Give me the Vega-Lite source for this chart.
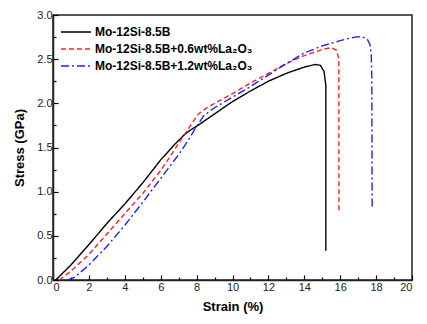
{
  "$schema": "https://vega.github.io/schema/vega-lite/v6.json",
  "width": 359,
  "height": 265,
  "autosize": "none",
  "padding": {"left": 53, "top": 15, "right": 15, "bottom": 44},
  "background": "white",
  "config": {
    "font": "Liberation Sans",
    "view": {"stroke": "#222", "strokeWidth": 1.5},
    "axis": {
      "domainColor": "#222",
      "domainWidth": 1.5,
      "ticks": true,
      "tickColor": "#000000",
      "tickOpacity": 1,
      "tickWidth": 1.2,
      "grid": false,
      "labelFont": "Liberation Sans",
      "labelFontSize": 11,
      "labelColor": "#222",
      "titleFont": "Liberation Sans",
      "titleFontSize": 13,
      "titleFontWeight": "bold",
      "titleColor": "#000"
    }
  },
  "data": {
    "values": [
      {"s": "A", "o": 1, "x": 0.15, "y": 0},
      {"s": "A", "o": 2, "x": 0.5, "y": 0.07},
      {"s": "A", "o": 3, "x": 1, "y": 0.17},
      {"s": "A", "o": 4, "x": 2, "y": 0.4},
      {"s": "A", "o": 5, "x": 3, "y": 0.64},
      {"s": "A", "o": 6, "x": 4, "y": 0.86},
      {"s": "A", "o": 7, "x": 5, "y": 1.1},
      {"s": "A", "o": 8, "x": 6, "y": 1.36},
      {"s": "A", "o": 9, "x": 6.8, "y": 1.54},
      {"s": "A", "o": 10, "x": 7.3, "y": 1.64},
      {"s": "A", "o": 11, "x": 7.6, "y": 1.69},
      {"s": "A", "o": 12, "x": 8, "y": 1.74},
      {"s": "A", "o": 13, "x": 9, "y": 1.88},
      {"s": "A", "o": 14, "x": 10, "y": 2.02},
      {"s": "A", "o": 15, "x": 11, "y": 2.14},
      {"s": "A", "o": 16, "x": 12, "y": 2.25},
      {"s": "A", "o": 17, "x": 13, "y": 2.34},
      {"s": "A", "o": 18, "x": 14, "y": 2.41},
      {"s": "A", "o": 19, "x": 14.6, "y": 2.44},
      {"s": "A", "o": 20, "x": 14.9, "y": 2.43},
      {"s": "A", "o": 21, "x": 15.1, "y": 2.36},
      {"s": "A", "o": 22, "x": 15.2, "y": 2.2},
      {"s": "A", "o": 23, "x": 15.2, "y": 0.33},
      {"s": "B", "o": 1, "x": 0.35, "y": 0},
      {"s": "B", "o": 2, "x": 1, "y": 0.1},
      {"s": "B", "o": 3, "x": 2, "y": 0.29},
      {"s": "B", "o": 4, "x": 3, "y": 0.52},
      {"s": "B", "o": 5, "x": 4, "y": 0.75},
      {"s": "B", "o": 6, "x": 5, "y": 0.98},
      {"s": "B", "o": 7, "x": 6, "y": 1.24},
      {"s": "B", "o": 8, "x": 6.5, "y": 1.39},
      {"s": "B", "o": 9, "x": 7, "y": 1.55},
      {"s": "B", "o": 10, "x": 7.6, "y": 1.73},
      {"s": "B", "o": 11, "x": 8.1, "y": 1.88},
      {"s": "B", "o": 12, "x": 8.5, "y": 1.94},
      {"s": "B", "o": 13, "x": 9, "y": 2.0},
      {"s": "B", "o": 14, "x": 10, "y": 2.11},
      {"s": "B", "o": 15, "x": 11, "y": 2.23},
      {"s": "B", "o": 16, "x": 12, "y": 2.34},
      {"s": "B", "o": 17, "x": 13, "y": 2.45},
      {"s": "B", "o": 18, "x": 14, "y": 2.54},
      {"s": "B", "o": 19, "x": 15, "y": 2.61},
      {"s": "B", "o": 20, "x": 15.5, "y": 2.63},
      {"s": "B", "o": 21, "x": 15.8, "y": 2.6},
      {"s": "B", "o": 22, "x": 15.92, "y": 2.5},
      {"s": "B", "o": 23, "x": 15.93, "y": 0.79},
      {"s": "C", "o": 1, "x": 0.8, "y": 0},
      {"s": "C", "o": 2, "x": 1.2, "y": 0.03},
      {"s": "C", "o": 3, "x": 2, "y": 0.17},
      {"s": "C", "o": 4, "x": 3, "y": 0.38},
      {"s": "C", "o": 5, "x": 4, "y": 0.62},
      {"s": "C", "o": 6, "x": 5, "y": 0.88},
      {"s": "C", "o": 7, "x": 6, "y": 1.15},
      {"s": "C", "o": 8, "x": 7, "y": 1.42},
      {"s": "C", "o": 9, "x": 7.5, "y": 1.57},
      {"s": "C", "o": 10, "x": 8, "y": 1.74},
      {"s": "C", "o": 11, "x": 8.4, "y": 1.86},
      {"s": "C", "o": 12, "x": 9, "y": 1.95},
      {"s": "C", "o": 13, "x": 10, "y": 2.07},
      {"s": "C", "o": 14, "x": 11, "y": 2.19},
      {"s": "C", "o": 15, "x": 12, "y": 2.32},
      {"s": "C", "o": 16, "x": 13, "y": 2.45},
      {"s": "C", "o": 17, "x": 14, "y": 2.57},
      {"s": "C", "o": 18, "x": 15, "y": 2.65},
      {"s": "C", "o": 19, "x": 16, "y": 2.71},
      {"s": "C", "o": 20, "x": 16.8, "y": 2.75},
      {"s": "C", "o": 21, "x": 17.2, "y": 2.755},
      {"s": "C", "o": 22, "x": 17.5, "y": 2.73},
      {"s": "C", "o": 23, "x": 17.65, "y": 2.67},
      {"s": "C", "o": 24, "x": 17.73, "y": 2.55},
      {"s": "C", "o": 25, "x": 17.76, "y": 2.3},
      {"s": "C", "o": 26, "x": 17.78, "y": 0.81}
    ]
  },
  "transform": [
    {"lookup": "s", "from": {"data": {"values": [
      {"s": "A", "name": "Mo-12Si-8.5B"},
      {"s": "B", "name": "Mo-12Si-8.5B+0.6wt%La₂O₃"},
      {"s": "C", "name": "Mo-12Si-8.5B+1.2wt%La₂O₃"}
    ]}, "key": "s", "fields": ["name"]}}
  ],
  "mark": {"type": "line", "strokeWidth": 1.4, "clip": true},
  "encoding": {
    "x": {
      "field": "x", "type": "quantitative",
      "scale": {"domain": [0, 20], "nice": false, "zero": false},
      "axis": {
        "title": "Strain (%)",
        "ticks": true,
        "values": [0,1,2,3,4,5,6,7,8,9,10,11,12,13,14,15,16,17,18,19,20],
        "labelExpr": "datum.value % 2 === 0 ? datum.label : ''",
        "tickSize": {"condition": {"test": "datum.value % 2 === 0", "value": -5}, "value": -3},
        "labelPadding": 6,
        "titlePadding": 8
      }
    },
    "y": {
      "field": "y", "type": "quantitative",
      "scale": {"domain": [0, 3], "nice": false},
      "axis": {
        "title": "Stress (GPa)",
        "ticks": true,
        "values": [0,0.25,0.5,0.75,1,1.25,1.5,1.75,2,2.25,2.5,2.75,3],
        "format": ".1f",
        "labelExpr": "(datum.value * 2) % 1 === 0 ? datum.label : ''",
        "tickSize": {"condition": {"test": "(datum.value * 2) % 1 === 0", "value": -5}, "value": -3},
        "labelPadding": 6,
        "titlePadding": 10
      }
    },
    "order": {"field": "o", "type": "quantitative"},
    "color": {
      "field": "name", "type": "nominal",
      "scale": {
        "domain": ["Mo-12Si-8.5B", "Mo-12Si-8.5B+0.6wt%La₂O₃", "Mo-12Si-8.5B+1.2wt%La₂O₃"],
        "range": ["#000000", "#ff2020", "#2020ff"]
      },
      "legend": {
        "title": null,
        "orient": "none",
        "legendX": 14.5,
        "legendY": 8.5,
        "symbolType": "M-2,0H2",
        "symbolSize": 225,
        "symbolStrokeWidth": 1.5,
        "labelOffset": 10.5,
        "labelFont": "Liberation Sans",
        "labelFontSize": 12,
        "labelFontWeight": "bold",
        "labelColor": "#000",
        "rowPadding": 2,
        "labelLimit": 400
      }
    },
    "strokeDash": {
      "field": "name", "type": "nominal",
      "scale": {
        "domain": ["Mo-12Si-8.5B", "Mo-12Si-8.5B+0.6wt%La₂O₃", "Mo-12Si-8.5B+1.2wt%La₂O₃"],
        "range": [[1, 0], [5, 3], [8, 3, 2, 3]]
      },
      "legend": null
    }
  }
}
